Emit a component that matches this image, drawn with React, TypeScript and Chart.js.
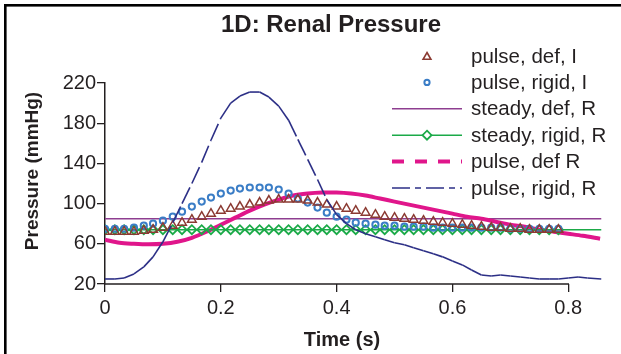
import React, { useEffect, useRef } from 'react';
import { Chart, registerables } from 'chart.js';

Chart.register(...registerables);

// ---- data ----
const TITLE = '1D: Renal Pressure';
const X_TITLE = 'Time (s)';
const Y_TITLE = 'Pressure (mmHg)';
const X_TICKS = [0, 0.2, 0.4, 0.6, 0.8];
const Y_TICKS = [20, 60, 100, 140, 180, 220];
const LABELS = ['pulse, def, I', 'pulse, rigid, I', 'steady, def, R', 'steady, rigid, R', 'pulse, def R', 'pulse, rigid, R'];

// sample times of the marker series (s)
const TIME = [
  0, 0.017, 0.033, 0.05, 0.067, 0.083, 0.1, 0.117, 0.133, 0.15, 0.167, 0.183,
  0.2, 0.217, 0.233, 0.25, 0.267, 0.283, 0.3, 0.317, 0.333, 0.35, 0.367, 0.383,
  0.4, 0.417, 0.433, 0.45, 0.467, 0.483, 0.5, 0.517, 0.533, 0.55, 0.567, 0.583,
  0.6, 0.617, 0.633, 0.65, 0.667, 0.683, 0.7, 0.717, 0.733, 0.75, 0.767, 0.783,
];
const TIME_END = 0.857;

const PULSE_DEF_I = [
  72, 72, 72, 72, 73, 74, 76, 78, 81, 84, 87, 90,
  93, 95, 97, 99, 101, 103, 104, 104, 104, 103, 101, 99,
  97, 95, 93, 91, 89, 87, 86, 85, 84, 83, 82, 81,
  80, 79, 78, 77, 76, 76, 75, 75, 74, 74, 74, 74,
];
const PULSE_RIGID_I = [
  75, 75, 75, 76, 78, 80, 83, 87, 92, 97, 102, 106,
  110, 113, 115, 116, 116, 116, 114, 110, 105, 101, 96, 91,
  87, 84, 81, 80, 79, 78, 78, 77, 77, 77, 76, 76,
  76, 76, 76, 76, 76, 76, 75, 75, 75, 75, 75, 75,
];
const STEADY_DEF_R_TIME = [0, TIME_END];
const STEADY_DEF_R = [85, 85];
const STEADY_RIGID_R_LEVEL = 74;

const PULSE_DEF_R_TIME = [
  0, 0.025, 0.05, 0.075, 0.1, 0.125, 0.15, 0.175, 0.2, 0.225, 0.25, 0.275,
  0.3, 0.325, 0.35, 0.375, 0.4, 0.425, 0.45, 0.475, 0.5, 0.525, 0.55, 0.575,
  0.6, 0.625, 0.65, 0.675, 0.7, 0.725, 0.75, 0.775, 0.8, 0.825, 0.855,
];
const PULSE_DEF_R = [
  64, 61, 60, 59.5, 60, 62, 66, 72, 79, 86, 93, 99,
  104, 108, 110, 111, 111, 110, 108, 105, 102, 99, 96, 93,
  90, 87, 85, 82, 79, 77, 74, 72, 70, 68, 65,
];

const PULSE_RIGID_R_TIME = [...TIME, 0.8, 0.817, 0.833, TIME_END];
const PULSE_RIGID_R = [
  25, 25, 26, 30, 37, 47, 62, 81, 100, 120, 141, 163,
  185, 200, 207, 211, 211, 206, 197, 183, 164, 144, 124, 104,
  89, 80, 74, 70, 67, 64, 61, 59, 56, 53, 50, 47,
  43, 39, 34, 29, 28, 29, 28, 27, 26, 25, 25, 25,
  26, 27, 26, 25,
];

// ---- styles ----
const C_TRI = '#8B3A32';
const C_CIRC = '#3A7DC6';
const C_PURPLE = '#8E3E90';
const C_GREEN = '#1BAA48';
const C_PINK = '#E0168B';
const C_NAVY = '#2C2F86';
const C_TEXT = '#231F20';
const FONT = '"Liberation Sans", Arial, Helvetica, sans-serif';
const NAVY_DASH = [18, 5, 6, 5];
const PINK_DASH = [12, 11];

const pts = (xs: number[], ys: number[]) => xs.map((x, i) => ({ x, y: ys[i] }));

function drawTri(ctx: CanvasRenderingContext2D, cx: number, cy: number, r: number) {
  ctx.beginPath();
  ctx.moveTo(cx, cy - r);
  ctx.lineTo(cx + r * 0.866, cy + r * 0.5);
  ctx.lineTo(cx - r * 0.866, cy + r * 0.5);
  ctx.closePath();
  ctx.stroke();
}

const decor = {
  id: 'decor',
  afterDraw(chart: any) {
    const { ctx, scales } = chart;
    const x = scales.x;
    const y = scales.y;
    ctx.save();
    // x axis line, ends at 0.8
    ctx.strokeStyle = C_TEXT;
    ctx.lineWidth = 1.5;
    ctx.beginPath();
    ctx.moveTo(x.getPixelForValue(0) - 0.75, y.bottom);
    ctx.lineTo(x.getPixelForValue(0.8) + 0.75, y.bottom);
    ctx.stroke();

    // frame (top and left)
    ctx.fillStyle = '#000';
    ctx.fillRect(4, 4, 621, 2.6);
    ctx.fillRect(4, 4, 2.6, 354);

    // title
    ctx.fillStyle = C_TEXT;
    ctx.textAlign = 'center';
    ctx.textBaseline = 'middle';
    ctx.font = `bold 24px ${FONT}`;
    ctx.fillText(TITLE, 331, 25);

    // axis titles
    ctx.font = `bold 20px ${FONT}`;
    ctx.fillText(X_TITLE, 342, 340);
    ctx.save();
    ctx.translate(33, 171);
    ctx.rotate(-Math.PI / 2);
    ctx.font = `bold 19px ${FONT}`;
    ctx.fillText(Y_TITLE, 0, 0);
    ctx.restore();

    // legend
    const x1 = 392, x2 = 462, xc = 427, tx = 471;
    const y0 = 56, dy = 26.4;
    ctx.font = `20.5px ${FONT}`;
    ctx.textAlign = 'left';
    LABELS.forEach((lab, i) => {
      const yy = y0 + i * dy;
      ctx.fillStyle = C_TEXT;
      ctx.fillText(lab, tx, yy + 1);
      ctx.setLineDash([]);
      ctx.lineCap = 'butt';
      if (i === 0) {
        ctx.strokeStyle = C_TRI; ctx.lineWidth = 1.6;
        drawTri(ctx, xc, yy + 1, 4.5);
      } else if (i === 1) {
        ctx.strokeStyle = C_CIRC; ctx.lineWidth = 2;
        ctx.beginPath(); ctx.arc(xc, yy, 2.6, 0, Math.PI * 2); ctx.stroke();
      } else if (i === 2) {
        ctx.strokeStyle = C_PURPLE; ctx.lineWidth = 1.6;
        ctx.beginPath(); ctx.moveTo(x1, yy); ctx.lineTo(x2, yy); ctx.stroke();
      } else if (i === 3) {
        ctx.strokeStyle = C_GREEN; ctx.lineWidth = 1.6;
        ctx.beginPath(); ctx.moveTo(x1, yy); ctx.lineTo(x2, yy); ctx.stroke();
        ctx.lineWidth = 1.8;
        ctx.beginPath();
        ctx.moveTo(xc, yy - 4.5); ctx.lineTo(xc + 4.5, yy); ctx.lineTo(xc, yy + 4.5); ctx.lineTo(xc - 4.5, yy);
        ctx.closePath();
        ctx.fillStyle = '#fff'; ctx.fill(); ctx.stroke();
      } else if (i === 4) {
        ctx.strokeStyle = C_PINK; ctx.lineWidth = 4;
        ctx.setLineDash(PINK_DASH);
        ctx.beginPath(); ctx.moveTo(x1, yy); ctx.lineTo(x2, yy); ctx.stroke();
      } else {
        ctx.strokeStyle = C_NAVY; ctx.lineWidth = 1.6;
        ctx.setLineDash(NAVY_DASH);
        ctx.beginPath(); ctx.moveTo(x1, yy); ctx.lineTo(x2, yy); ctx.stroke();
      }
    });
    ctx.restore();
  },
};

export default function App() {
  const ref = useRef<HTMLCanvasElement | null>(null);

  useEffect(() => {
    document.body.style.margin = '0';
    const canvas = ref.current;
    if (!canvas) return;
    const chart = new Chart(canvas, {
      type: 'scatter',
      data: {
        datasets: [
          {
            label: LABELS[5],
            data: pts(PULSE_RIGID_R_TIME, PULSE_RIGID_R),
            showLine: true,
            borderColor: C_NAVY,
            borderWidth: 1.6,
            borderDash: NAVY_DASH,
            pointRadius: 0,
            order: 0,
            segment: {
              // restart the dash pattern on every segment, like the source
              borderDashOffset: (c: any) => (c.p0DataIndex % 2 ? 0.01 : 0),
            },
          },
          {
            label: LABELS[0],
            data: pts(TIME, PULSE_DEF_I),
            showLine: false,
            pointStyle: 'triangle',
            pointRadius: 5,
            pointBorderWidth: 1.5,
            pointBorderColor: C_TRI,
            pointBackgroundColor: 'rgba(255,255,255,0)',
            order: 1,
          },
          {
            label: LABELS[1],
            data: pts(TIME, PULSE_RIGID_I),
            showLine: false,
            pointStyle: 'circle',
            pointRadius: 3.1,
            pointBorderWidth: 2,
            pointBorderColor: C_CIRC,
            pointBackgroundColor: 'rgba(255,255,255,0)',
            order: 2,
          },
          {
            label: LABELS[3],
            data: pts([...TIME, TIME_END], [...TIME.map(() => STEADY_RIGID_R_LEVEL), STEADY_RIGID_R_LEVEL]),
            showLine: true,
            borderColor: C_GREEN,
            borderWidth: 1.6,
            pointStyle: 'rectRot',
            pointRadius: (c: any) => (c.dataIndex < TIME.length ? 4.5 : 0),
            pointBorderWidth: 1.8,
            pointBorderColor: C_GREEN,
            pointBackgroundColor: 'rgba(255,255,255,0)',
            order: 3,
          },
          {
            label: LABELS[4],
            data: pts(PULSE_DEF_R_TIME, PULSE_DEF_R),
            showLine: true,
            borderColor: C_PINK,
            borderWidth: 4,
            tension: 0.3,
            pointRadius: 0,
            order: 4,
          },
          {
            label: LABELS[2],
            data: pts(STEADY_DEF_R_TIME, STEADY_DEF_R),
            showLine: true,
            borderColor: C_PURPLE,
            borderWidth: 1.6,
            pointRadius: 0,
            order: 5,
          },
        ],
      },
      options: {
        responsive: false,
        animation: false,
        events: [],
        layout: { padding: { left: 0, top: 83, right: 18, bottom: 0 } },
        plugins: { legend: { display: false }, tooltip: { enabled: false }, title: { display: false } },
        scales: {
          x: {
            type: 'linear',
            min: 0,
            max: 0.86,
            afterBuildTicks: (s: any) => { s.ticks = X_TICKS.map((v) => ({ value: v })); },
            afterFit: (s: any) => { s.height = 70; },
            border: { display: false },
            grid: { display: true, drawOnChartArea: false, drawTicks: true, tickLength: 8, color: C_TEXT, lineWidth: 1.3 },
            ticks: {
              padding: 4,
              color: C_TEXT,
              font: { family: FONT, size: 20 },
              callback: (v: any) => String(Math.round(Number(v) * 10) / 10),
              maxRotation: 0,
            },
          },
          y: {
            type: 'linear',
            min: 20,
            max: 220,
            afterBuildTicks: (s: any) => { s.ticks = Y_TICKS.map((v) => ({ value: v })); },
            afterFit: (s: any) => { s.width = 105; },
            border: { display: true, color: C_TEXT, width: 1.5 },
            grid: { display: true, drawOnChartArea: false, drawTicks: true, tickLength: 8, color: C_TEXT, lineWidth: 1.3 },
            ticks: {
              padding: 1,
              color: C_TEXT,
              font: { family: FONT, size: 20 },
            },
          },
        },
      },
      plugins: [decor],
    });
    return () => chart.destroy();
  }, []);

  return (
    <div style={{ width: 621, height: 354, position: 'relative', background: '#fff' }}>
      <canvas ref={ref} width={621} height={354} style={{ display: 'block', width: 621, height: 354 }} />
    </div>
  );
}
